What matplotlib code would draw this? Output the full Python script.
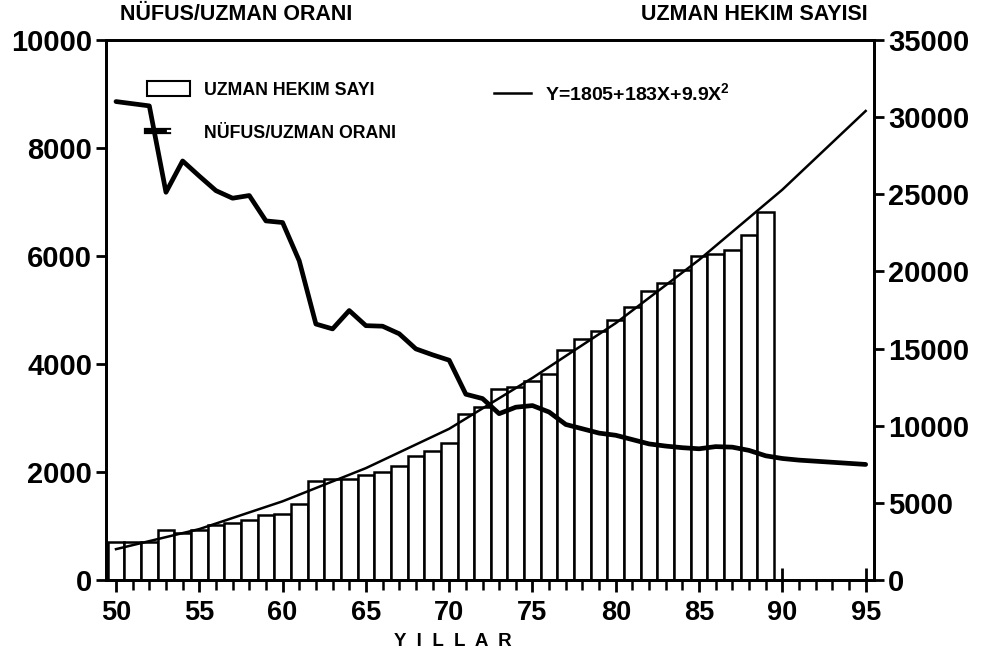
import matplotlib
matplotlib.use("Agg")
import matplotlib.pyplot as plt
from matplotlib.patches import Rectangle
from matplotlib.lines import Line2D
from matplotlib.legend_handler import HandlerTuple

# ---- data ----
bar_years = list(range(50, 90))
uzman_hekim = [2470, 2440, 2440, 3220, 3050, 3220, 3545, 3720, 3870, 4190,
               4300, 4950, 6390, 6570, 6570, 6780, 7000, 7400, 8020, 8370,
               8880, 10780, 11210, 12400, 12500, 12900, 13370, 14880, 15640, 16170,
               16850, 17700, 18760, 19230, 20100, 20980, 21130, 21390, 22380, 23870]

ratio_years = list(range(50, 96))
nufus_uzman = [8860, 8820, 8780, 7180, 7760, 7480, 7210, 7070, 7120, 6650,
               6620, 5910, 4740, 4650, 4990, 4710, 4700, 4560, 4280, 4170,
               4070, 3440, 3360, 3080, 3200, 3230, 3110, 2880, 2800, 2720,
               2680, 2600, 2520, 2480, 2450, 2430, 2470, 2460, 2400, 2300,
               2250, 2220, 2200, 2180, 2160, 2140]

fit_years = [50, 55, 60, 65, 70, 75, 80, 85, 90, 95]
fit_values = [2000, 3300, 5100, 7250, 9800, 13100, 16650, 20750, 25300, 30400]

x_major = [50, 55, 60, 65, 70, 75, 80, 85, 90, 95]
left_ticks = [0, 2000, 4000, 6000, 8000, 10000]
right_ticks = [0, 5000, 10000, 15000, 20000, 25000, 30000, 35000]

FONT = ["Liberation Sans", "DejaVu Sans"]
plt.rcParams['font.family'] = FONT
plt.rcParams['font.weight'] = 'bold'
plt.rcParams['mathtext.fontset'] = 'custom'
plt.rcParams['mathtext.rm'] = 'Liberation Sans:bold'
plt.rcParams['mathtext.it'] = 'Liberation Sans:bold'
plt.rcParams['mathtext.bf'] = 'Liberation Sans:bold'

fig = plt.figure(figsize=(9.81, 6.61), dpi=100)
ax = fig.add_axes([106/981, 1-580/661, (874-106)/981, (580-40)/661])
ax2 = ax.twinx()

# bars + fit curve on the right-hand scale
ax.bar(bar_years, uzman_hekim, width=1.0, facecolor='white', edgecolor='black',
       linewidth=1.8, zorder=2)
ax.plot(fit_years, fit_values, color='black', lw=1.8, zorder=3)
ax.set_ylim(0, 35000)
ax.set_xlim(49.4, 95.5)
ax.yaxis.tick_right()
ax.yaxis.set_label_position('right')
ax.set_yticks(right_ticks)
ax.set_yticklabels([str(v) for v in right_ticks])

# ratio line on left-hand scale
ax2.plot(ratio_years, nufus_uzman, color='black', lw=3.4, solid_joinstyle='round',
         solid_capstyle='round', zorder=4)
ax2.set_ylim(0, 10000)
ax2.yaxis.tick_left()
ax2.set_yticks(left_ticks)
ax2.set_yticklabels([str(v) for v in left_ticks])

ax.set_xticks(x_major)
ax.set_xticklabels([str(v) for v in x_major])
ax.set_xticks(range(50, 96), minor=True)

for a in (ax, ax2):
    for s in a.spines.values():
        s.set_linewidth(2.0)
ax.tick_params(axis='x', which='major', direction='inout', length=17, width=2,
               labelsize=19.5, pad=6)
ax.tick_params(axis='x', which='minor', direction='out', length=7, width=1.8)
ax.tick_params(axis='y', which='major', direction='out', length=7, width=2,
               labelsize=21, pad=3)
ax2.tick_params(axis='y', which='major', direction='out', length=7, width=2,
                labelsize=21, pad=3)

# legend: first column (bars, ratio line)
bar_h = Rectangle((0, 0), 1, 1, facecolor='white', edgecolor='black', linewidth=1.5)
ratio_h = (Line2D([], [], color='black', lw=4.5), Line2D([], [], color='white', lw=1.6))
fit_h = Line2D([], [], color='black', lw=1.8)
leg1 = ax2.legend([bar_h, ratio_h],
                  ['UZMAN HEKIM SAYI', 'NÜFUS/UZMAN ORANI'],
                  handler_map={tuple: HandlerTuple(ndivide=None)},
                  frameon=False, loc='upper left',
                  bbox_to_anchor=(0.042, 0.94), borderpad=0,
                  prop={'family': FONT, 'weight': 'bold', 'size': 12.8},
                  handlelength=2.4, handleheight=0.9,
                  handletextpad=0.8, labelspacing=1.45)
ax2.add_artist(leg1)
# second column (fit curve)
leg2 = ax2.legend([fit_h], ['Y=1805+183X+9.9X$^{2}$'],
                  frameon=False, loc='upper left',
                  bbox_to_anchor=(0.493, 0.94), borderpad=0,
                  prop={'family': FONT, 'weight': 'bold', 'size': 14},
                  handlelength=1.9, handletextpad=0.7)

fig.text(120/981, 1-15/661, 'NÜFUS/UZMAN ORANI', ha='left', va='center',
         fontsize=15.5, fontweight='bold')
fig.text(868/981, 1-15/661, 'UZMAN HEKIM SAYISI', ha='right', va='center',
         fontsize=15.5, fontweight='bold')
fig.text(453/981, 1-641/661, 'Y  I  L  L  A  R', ha='center', va='center',
         fontsize=13.5, fontweight='bold')

fig.savefig('out.png', dpi=100)
